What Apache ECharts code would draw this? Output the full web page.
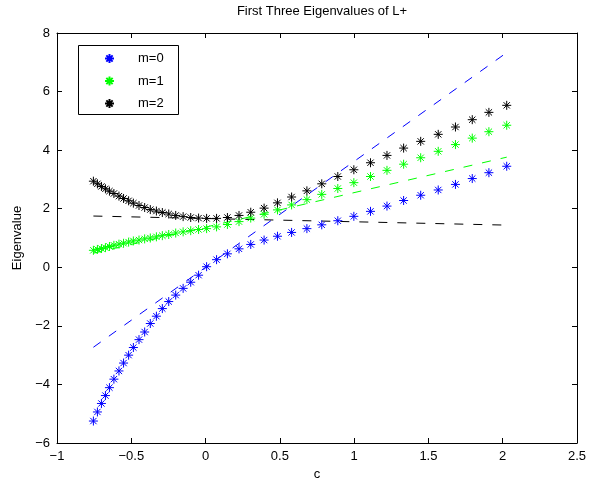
<!DOCTYPE html>
<html>
<head>
<meta charset="utf-8">
<script src="https://cdn.jsdelivr.net/npm/echarts@6/dist/echarts.min.js"></script>
<style>
  html, body { margin: 0; padding: 0; background: #fff; }
  #chart { width: 600px; height: 486px; }
</style>
</head>
<body>
<div id="chart"></div>
<script>
// ---- data ----
const cValues = [-0.755, -0.728, -0.701, -0.674, -0.647, -0.617, -0.583, -0.552, -0.518, -0.486,
  -0.448, -0.410, -0.372, -0.331, -0.291, -0.248, -0.201, -0.151, -0.100, -0.047,
  0.007, 0.074, 0.147, 0.225, 0.304, 0.394, 0.484, 0.579, 0.682, 0.782,
  0.890, 0.998, 1.110, 1.221, 1.333, 1.448, 1.566, 1.682, 1.795, 1.907, 2.027];
const m0 = [-5.25, -4.94, -4.65, -4.38, -4.11, -3.82, -3.54, -3.27, -3.00, -2.74,
  -2.47, -2.21, -1.92, -1.67, -1.41, -1.17, -0.95, -0.72, -0.51, -0.27,
  0.02, 0.26, 0.46, 0.63, 0.78, 0.93, 1.06, 1.19, 1.32, 1.45,
  1.59, 1.74, 1.91, 2.09, 2.28, 2.46, 2.64, 2.83, 3.03, 3.23, 3.45];
const m1 = [0.58, 0.61, 0.64, 0.67, 0.71, 0.75, 0.79, 0.82, 0.86, 0.90,
  0.93, 0.97, 1.00, 1.04, 1.08, 1.12, 1.17, 1.21, 1.25, 1.29,
  1.32, 1.38, 1.46, 1.56, 1.68, 1.81, 1.96, 2.13, 2.31, 2.49,
  2.69, 2.89, 3.10, 3.31, 3.52, 3.74, 3.96, 4.19, 4.41, 4.63, 4.85];
const m2 = [2.94, 2.85, 2.76, 2.68, 2.60, 2.52, 2.43, 2.35, 2.27, 2.19,
  2.11, 2.04, 1.97, 1.92, 1.87, 1.82, 1.77, 1.73, 1.70, 1.68,
  1.67, 1.67, 1.70, 1.77, 1.88, 2.02, 2.20, 2.40, 2.61, 2.85,
  3.10, 3.33, 3.57, 3.82, 4.07, 4.30, 4.54, 4.79, 5.04, 5.29, 5.53];
// dashed reference lines (end points)
const lineC = [-0.755, 2.027];
const line0 = [-2.73, 7.33];
const line1 = [0.48, 3.76];
const line2 = [1.75, 1.44];
const seriesNames = ['m=0', 'm=1', 'm=2'];
const xTicks = { min: -1, max: 2.5, interval: 0.5 };
const yTicks = { min: -6, max: 8, interval: 2 };
const titleText = 'First Three Eigenvalues of L+';
const xName = 'c';
const yName = 'Eigenvalue';

const FONT = 'Liberation Sans';
const colors = ['#0000ff', '#00ff00', '#000000'];
const star = 'path://M0,-10L0,10M-10,0L10,0M-7,-7L7,7M-7,7L7,-7';
const fmt = v => (v < 0 ? '\u2212' + Math.abs(v) : String(v));

function pairs(xs, ys) { return xs.map((x, i) => [x, ys[i]]); }

const scatter = (name, ys, color) => ({
  name, type: 'scatter', data: pairs(cValues, ys),
  symbol: star, symbolSize: 9, symbolKeepAspect: true,
  itemStyle: { color: color, borderColor: color, borderWidth: 1, opacity: 1 },
  emphasis: { disabled: true }, z: 3
});
const dashed = (ys, color) => ({
  type: 'line', data: pairs(lineC, ys), showSymbol: false, symbol: 'none',
  lineStyle: { color: color, width: 1, type: [9, 10] },
  emphasis: { disabled: true }, z: 2, silent: true
});

const axisCommon = {
  type: 'value',
  axisLine: { show: true, onZero: false, lineStyle: { color: '#000', width: 1 } },
  axisTick: { show: true, inside: true, length: 5, lineStyle: { color: '#000' } },
  splitLine: { show: false }
};

const chart = echarts.init(document.getElementById('chart'), null, { renderer: 'canvas' });
chart.setOption({
  animation: false,
  backgroundColor: '#fff',
  textStyle: { fontFamily: FONT },
  title: {
    text: titleText, left: 317, textAlign: 'center', top: 0,
    textStyle: { fontFamily: FONT, fontSize: 13, fontWeight: 'normal', color: '#000' }
  },
  grid: { left: 57, right: 23, top: 33, bottom: 43 },
  xAxis: [
    Object.assign({}, axisCommon, {
      min: xTicks.min, max: xTicks.max, interval: xTicks.interval, position: 'bottom',
      name: xName, nameLocation: 'middle', nameGap: 25,
      nameTextStyle: { fontFamily: FONT, fontSize: 13, color: '#000' },
      axisLabel: { fontFamily: FONT, fontSize: 13, color: '#000', margin: 7, formatter: fmt }
    }),
    Object.assign({}, axisCommon, {
      min: xTicks.min, max: xTicks.max, interval: xTicks.interval, position: 'top',
      axisLabel: { show: false }
    })
  ],
  yAxis: [
    Object.assign({}, axisCommon, {
      min: yTicks.min, max: yTicks.max, interval: yTicks.interval, position: 'left',
      name: yName, nameLocation: 'middle', nameGap: 32, nameRotate: 90,
      nameTextStyle: { fontFamily: FONT, fontSize: 13, color: '#000' },
      axisLabel: { fontFamily: FONT, fontSize: 13, color: '#000', margin: 7, formatter: fmt }
    }),
    Object.assign({}, axisCommon, {
      min: yTicks.min, max: yTicks.max, interval: yTicks.interval, position: 'right',
      axisLabel: { show: false }
    })
  ],
  legend: {
    data: seriesNames, orient: 'vertical', left: 77, top: 45,
    padding: [7, 0, 0, 27], itemWidth: 9, itemHeight: 9, itemGap: 9.5,
    textStyle: { fontFamily: FONT, fontSize: 13, color: '#000', padding: [0, 0, 0, 19] },
    selectedMode: false
  },
  graphic: [{
    type: 'rect', left: 76, top: 43, z: 10, silent: true,
    shape: { width: 100, height: 69 },
    style: { fill: 'none', stroke: '#000', lineWidth: 1 }
  }],
  series: [
    scatter(seriesNames[0], m0, colors[0]),
    dashed(line0, colors[0]),
    scatter(seriesNames[1], m1, colors[1]),
    dashed(line1, colors[1]),
    scatter(seriesNames[2], m2, colors[2]),
    dashed(line2, colors[2])
  ]
});
</script>
</body>
</html>
